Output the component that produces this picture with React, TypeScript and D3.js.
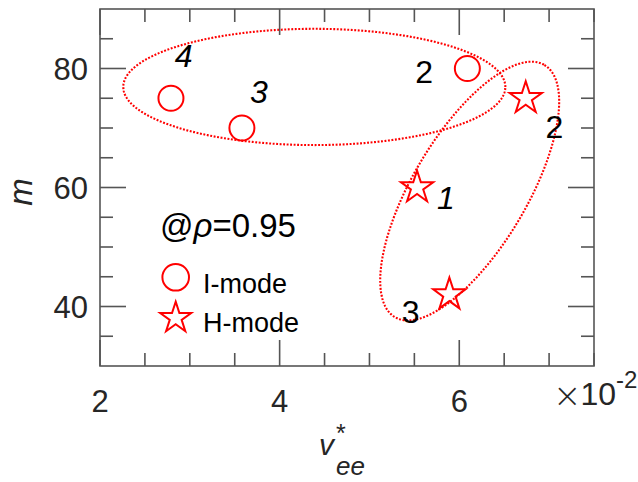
import * as d3 from "d3";

// I-mode (circles) and H-mode (stars) points, x in units of 1e-2
const iModeX = [2.79, 3.58, 6.09];
const iModeY = [75, 70, 80];
const hModeX = [6.74, 5.53, 5.89];
const hModeY = [75, 60, 42];

// annotation numbers next to points
const noteText = ["4", "3", "2", "2", "1", "3"];
const noteX = [2.93, 3.77, 5.61, 7.06, 5.85, 5.46];
const noteY = [80.3, 74.2, 77.6, 68.4, 56.4, 37.3];
const noteItalic = [true, true, false, false, true, false];

// confidence ellipses: center, and two conjugate semi-axis vectors (data units)
const ellipseCx = [4.386, 6.116];
const ellipseCy = [76.9, 59.4];
const ellipseAx = [2.127, 0.832];
const ellipseAy = [0, 21.19];
const ellipseBx = [0, 0.548];
const ellipseBy = [9.77, -4.85];

const xMajor = [2, 4, 6];
const yMajor = [40, 60, 80];

const W = 638, H = 482;
const left = 100, top = 9, right = 594, bottom = 366;
const font = "'Liberation Sans', Arial, sans-serif";
const red = "#ff0000";
const axisColor = "#555";
const tickColor = "#262626";

export default function App() {
    const x = d3.scaleLinear().domain([2, 7.5]).range([left, right]);
    const y = d3.scaleLinear().domain([30, 90]).range([bottom, top]);

    const xMinor = d3.range(2.5, 7.51, 0.5).filter(v => !xMajor.includes(v));
    const yMinor = d3.range(35, 86, 5).filter(v => !yMajor.includes(v));

    const star = d3.symbol(d3.symbolStar, 324)();
    const legendStar = d3.symbol(d3.symbolStar, 300)();

    const ellipsePath = (i: number) => {
        const ts = d3.range(0, Math.PI * 2 + 0.001, Math.PI / 180);
        return d3.line<number>()
            .x(t => x(ellipseCx[i] + ellipseAx[i] * Math.cos(t) + ellipseBx[i] * Math.sin(t)))
            .y(t => y(ellipseCy[i] + ellipseAy[i] * Math.cos(t) + ellipseBy[i] * Math.sin(t)))(ts);
    };

    const major = 26, minor = 13;

    return (
        <svg width={W} height={H} style={{position: "absolute", left: 0, top: 0, background: "#fff"}}
             fontFamily={font}>
            {/* ellipses */}
            {ellipseCx.map((_, i) => (
                <path key={"e" + i} d={ellipsePath(i) || ""} fill="none" stroke={red}
                      strokeWidth={2.1} strokeDasharray="1.9,1.6"/>
            ))}

            {/* frame */}
            <rect x={left} y={top} width={right - left} height={bottom - top} fill="none"
                  stroke={axisColor} strokeWidth={1.6}/>

            {/* x ticks bottom and top */}
            {xMajor.map(v => (
                <g key={"xm" + v}>
                    <line x1={x(v)} x2={x(v)} y1={bottom} y2={bottom - major} stroke={axisColor} strokeWidth={1.6}/>
                    <line x1={x(v)} x2={x(v)} y1={top} y2={top + major} stroke={axisColor} strokeWidth={1.6}/>
                    <text x={x(v)} y={412} textAnchor="middle" fontSize={31} fill={tickColor}>{v}</text>
                </g>
            ))}
            {xMinor.map(v => (
                <g key={"xn" + v}>
                    <line x1={x(v)} x2={x(v)} y1={bottom} y2={bottom - minor} stroke={axisColor} strokeWidth={1.6}/>
                    <line x1={x(v)} x2={x(v)} y1={top} y2={top + minor} stroke={axisColor} strokeWidth={1.6}/>
                </g>
            ))}

            {/* y ticks left and right */}
            {yMajor.map(v => (
                <g key={"ym" + v}>
                    <line x1={left} x2={left + major} y1={y(v)} y2={y(v)} stroke={axisColor} strokeWidth={1.6}/>
                    <line x1={right} x2={right - major} y1={y(v)} y2={y(v)} stroke={axisColor} strokeWidth={1.6}/>
                    <text x={88} y={y(v) + 11} textAnchor="end" fontSize={31} fill={tickColor}>{v}</text>
                </g>
            ))}
            {yMinor.map(v => (
                <g key={"yn" + v}>
                    <line x1={left} x2={left + minor} y1={y(v)} y2={y(v)} stroke={axisColor} strokeWidth={1.6}/>
                    <line x1={right} x2={right - minor} y1={y(v)} y2={y(v)} stroke={axisColor} strokeWidth={1.6}/>
                </g>
            ))}

            {/* exponent */}
            <text x={553} y={405} fontSize={32} fill={tickColor}>
                <tspan fontSize={34} fontFamily="'DejaVu Sans', sans-serif" fontWeight={200} dy={2}>×</tspan>
                <tspan dx={-1} dy={-2}>10</tspan>
                <tspan dy={-17} fontSize={24}>-2</tspan>
            </text>

            {/* axis labels */}
            <text transform="translate(32,192) rotate(-90)" textAnchor="middle" fontSize={33}
                  fontStyle="italic" fill={tickColor}>m</text>
            <text x={319} y={455} fontSize={30} fontStyle="italic" fill={tickColor}>v</text>
            <text x={336} y={442} fontSize={25} fill={tickColor}>*</text>
            <text x={336} y={475} fontSize={26} fontStyle="italic" fill={tickColor}>ee</text>

            {/* points */}
            {iModeX.map((v, i) => (
                <circle key={"c" + i} cx={x(v)} cy={y(iModeY[i])} r={12.5} fill="none" stroke={red} strokeWidth={2}/>
            ))}
            {hModeX.map((v, i) => (
                <path key={"s" + i} d={star || ""} transform={`translate(${x(v)},${y(hModeY[i])})`}
                      fill="none" stroke={red} strokeWidth={2}/>
            ))}

            {/* annotations */}
            {noteText.map((t, i) => (
                <text key={"n" + i} x={x(noteX[i])} y={y(noteY[i])} textAnchor="middle" fontSize={32}
                      fontStyle={noteItalic[i] ? "italic" : "normal"} fill="#000">{t}</text>
            ))}

            {/* legend */}
            <text x={160} y={237} fontSize={33} fill="#000">@<tspan fontStyle="italic">ρ</tspan>=0.95</text>
            <circle cx={175.7} cy={277.3} r={13.3} fill="none" stroke={red} strokeWidth={2}/>
            <text x={203} y={293} fontSize={27} fill="#000">I-mode</text>
            <path d={legendStar || ""} transform="translate(175.7,318)" fill="none" stroke={red} strokeWidth={2}/>
            <text x={203} y={332} fontSize={27} fill="#000">H-mode</text>
        </svg>
    );
}
